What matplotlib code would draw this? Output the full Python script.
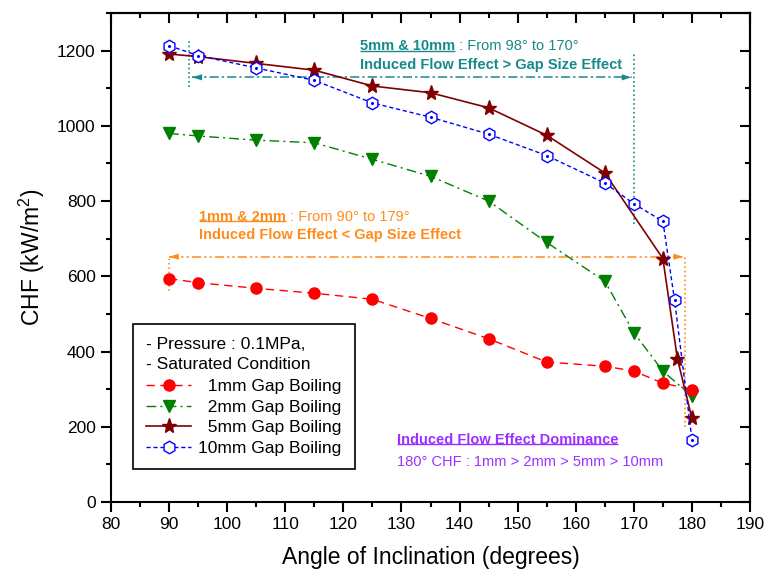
import matplotlib
matplotlib.use("Agg")
import matplotlib.pyplot as plt
from matplotlib.ticker import MultipleLocator

plt.rcParams['font.family'] = ['Liberation Sans', 'DejaVu Sans']
plt.rcParams['mathtext.fontset'] = 'custom'
plt.rcParams['mathtext.rm'] = 'Liberation Sans'
plt.rcParams['mathtext.it'] = 'Liberation Sans:italic'
plt.rcParams['mathtext.bf'] = 'Liberation Sans:bold'

# ---------------- data ----------------
angle_1mm = [90, 95, 105, 115, 125, 135, 145, 155, 165, 170, 175, 180]
chf_1mm = [594, 583, 568, 555, 539, 488, 434, 372, 361, 348, 316, 299]

angle_2mm = [90, 95, 105, 115, 125, 135, 145, 155, 165, 170, 175, 180]
chf_2mm = [980, 973, 962, 955, 911, 866, 800, 690, 587, 450, 348, 281]

angle_5mm = [90, 95, 105, 115, 125, 135, 145, 155, 165, 175, 177.5, 180]
chf_5mm = [1191, 1184, 1166, 1148, 1106, 1088, 1048, 975, 875, 647, 381, 222]

angle_10mm = [90, 95, 105, 115, 125, 135, 145, 155, 165, 170, 175, 177, 180]
chf_10mm = [1213, 1187, 1154, 1121, 1061, 1023, 978, 921, 848, 793, 746, 538, 166]

labels = ["  1mm Gap Boiling", "  2mm Gap Boiling", "  5mm Gap Boiling", "10mm Gap Boiling"]
legend_title = "- Pressure : 0.1MPa,\n- Saturated Condition"

# range annotations
teal_range = [93.4, 170]      # vertical guide lines
teal_arrow = [94.0, 169.6]
teal_level = 1129
orange_range = [90, 178.8]
orange_arrow = [90.0, 178.5]
orange_level = 652

TEAL = '#178a8a'
ORANGE = '#ff8c1a'
PURPLE = '#9b30ff'

# ---------------- figure ----------------
fig = plt.figure(figsize=(7.68, 5.81), dpi=100)
ax = fig.add_axes([0.1445, 0.136, 0.8321, 0.8416])

ax.plot(angle_1mm, chf_1mm, color='#ff0000', ls=(0, (6, 4)), lw=1.0,
        marker='o', ms=8, mfc='#ff0000', mec='#ff0000', label=labels[0], zorder=5)
ax.plot(angle_2mm, chf_2mm, color='#008000', ls=(0, (7, 3, 1.5, 3)), lw=1.0,
        marker='v', ms=9, mfc='#008000', mec='#008000', label=labels[1], zorder=4)
ax.plot(angle_5mm, chf_5mm, color='#800000', ls='-', lw=1.2,
        marker='*', ms=11, mfc='#800000', mec='#800000', label=labels[2], zorder=3)
ax.plot(angle_10mm, chf_10mm, color='#0000ff', ls=(0, (3, 2)), lw=1.0,
        marker='h', ms=9, mfc='white', mec='#0000ff', mew=1.0, label=labels[3], zorder=6)
ax.plot(angle_10mm, chf_10mm, ls='none', marker='o', ms=1.2, color='#0000ff', zorder=7)

ax.set_xlim(80, 190)
ax.set_ylim(0, 1300)
ax.xaxis.set_major_locator(MultipleLocator(10))
ax.xaxis.set_minor_locator(MultipleLocator(5))
ax.yaxis.set_major_locator(MultipleLocator(200))
ax.yaxis.set_minor_locator(MultipleLocator(100))

ax.tick_params(axis='both', which='major', labelsize=12.5, length=7, width=1.5, direction='out', pad=4)
ax.tick_params(axis='both', which='minor', length=3.5, width=1.5, direction='out')
for s in ax.spines.values():
    s.set_linewidth(1.5)

# top / right inward ticks
axt = ax.secondary_xaxis('top')
axt.xaxis.set_major_locator(MultipleLocator(10))
axt.xaxis.set_minor_locator(MultipleLocator(5))
axt.tick_params(which='major', direction='in', length=7, width=1.5, labeltop=False)
axt.tick_params(which='minor', direction='in', length=3.5, width=1.5)
axr = ax.secondary_yaxis('right')
axr.yaxis.set_major_locator(MultipleLocator(200))
axr.yaxis.set_minor_locator(MultipleLocator(100))
axr.tick_params(which='major', direction='in', length=7, width=1.5, labelright=False)
axr.tick_params(which='minor', direction='in', length=3.5, width=1.5)
for sa in (axt, axr):
    for s in sa.spines.values():
        s.set_linewidth(1.5)

ax.set_xlabel('Angle of Inclination (degrees)', fontsize=16.5, labelpad=10)
ax.set_ylabel('CHF (kW/m$^2$)', fontsize=16.5, labelpad=7)

# legend
leg = ax.legend(title=legend_title, loc='lower left', bbox_to_anchor=(0.0345, 0.067),
                borderaxespad=0, fontsize=12.5, title_fontsize=12.5, alignment='left',
                frameon=True, fancybox=False, edgecolor='black', framealpha=1,
                numpoints=1, handlelength=2.6, handletextpad=0.4, labelspacing=0.32,
                borderpad=0.75)
leg.get_frame().set_linewidth(1.2)
leg.get_title().set_linespacing(1.45)
leg._legend_box.sep = 5

# guide lines and arrows
ax.plot([teal_range[0]] * 2, [1103, 1228], color=TEAL, ls=':', lw=1.2)
ax.plot([teal_range[1]] * 2, [740, 1197], color=TEAL, ls=':', lw=1.2)
ax.plot(teal_arrow, [teal_level] * 2, color=TEAL, ls=(0, (6, 2, 1.5, 2)), lw=1.1)
for a, b in ((teal_arrow[0] + 2.5, teal_arrow[0]), (teal_arrow[1] - 2.5, teal_arrow[1])):
    ax.annotate('', xy=(b, teal_level), xytext=(a, teal_level),
                arrowprops=dict(arrowstyle='-|>,head_length=0.7,head_width=0.22',
                                color=TEAL, lw=0.01, shrinkA=0, shrinkB=0))

ax.plot([orange_range[0]] * 2, [560, 647], color=ORANGE, ls=':', lw=1.2)
ax.plot([orange_range[1]] * 2, [200, 656], color=ORANGE, ls=':', lw=1.2)
ax.plot(orange_arrow, [orange_level] * 2, color=ORANGE, ls=(0, (6, 2, 1.5, 2, 1.5, 2)), lw=1.1)
for a, b in ((orange_arrow[0] + 2.5, orange_arrow[0]), (orange_arrow[1] - 2.5, orange_arrow[1])):
    ax.annotate('', xy=(b, orange_level), xytext=(a, orange_level),
                arrowprops=dict(arrowstyle='-|>,head_length=0.7,head_width=0.22',
                                color=ORANGE, lw=0.01, shrinkA=0, shrinkB=0))

# texts
FS = 10.5
underlined = []
t1 = ax.text(122.9, 1212, '5mm & 10mm', color=TEAL, fontsize=FS, fontweight='bold', va='center', ha='left')
ax.annotate(' : From 98° to 170°', xy=(1, 0), xycoords=t1, va='bottom', ha='left', color=TEAL, fontsize=FS)
ax.text(122.9, 1161, 'Induced Flow Effect > Gap Size Effect', color=TEAL, fontsize=FS,
        fontweight='bold', va='center', ha='left')
underlined.append((t1, TEAL))

t2 = ax.text(95.2, 758, '1mm & 2mm', color=ORANGE, fontsize=FS, fontweight='bold', va='center', ha='left')
ax.annotate(' : From 90° to 179°', xy=(1, 0), xycoords=t2, va='bottom', ha='left', color=ORANGE, fontsize=FS)
ax.text(95.2, 709, 'Induced Flow Effect < Gap Size Effect', color=ORANGE, fontsize=FS,
        fontweight='bold', va='center', ha='left')
underlined.append((t2, ORANGE))

t3 = ax.text(129.2, 166, 'Induced Flow Effect Dominance', color=PURPLE, fontsize=FS,
             fontweight='bold', va='center', ha='left')
ax.text(129.2, 106, '180° CHF : 1mm > 2mm > 5mm > 10mm', color=PURPLE, fontsize=FS, va='center', ha='left')
underlined.append((t3, PURPLE))

fig.canvas.draw()
r = fig.canvas.get_renderer()
inv = ax.transData.inverted()
for t, c in underlined:
    bb = t.get_window_extent(r)
    (x0, y0) = inv.transform((bb.x0, bb.y0 + 2.5))
    (x1, _) = inv.transform((bb.x1, bb.y0 + 2.5))
    ax.plot([x0, x1], [y0, y0], color=c, lw=1.0, solid_capstyle='butt')

fig.savefig('out.png', dpi=100)
